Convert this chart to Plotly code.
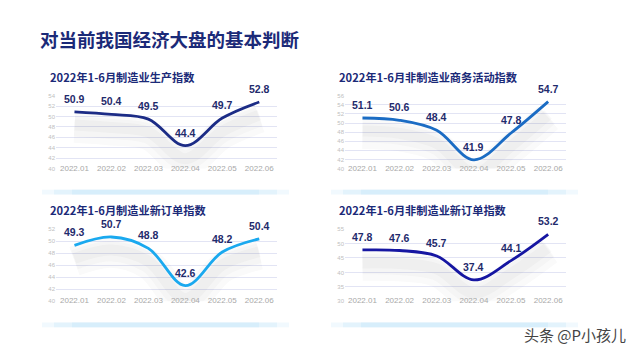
import plotly.graph_objects as go

months = ["2022.01", "2022.02", "2022.03", "2022.04", "2022.05", "2022.06"]
mfg_production = [50.9, 50.4, 49.5, 44.4, 49.7, 52.8]
nonmfg_business = [51.1, 50.6, 48.4, 41.9, 47.8, 54.7]
mfg_new_orders = [49.3, 50.7, 48.8, 42.6, 48.2, 50.4]
nonmfg_new_orders = [47.8, 47.6, 45.7, 37.4, 44.1, 53.2]

main_title = "对当前我国经济大盘的基本判断"
titles = ["2022年1-6月制造业生产指数", "2022年1-6月非制造业商务活动指数",
          "2022年1-6月制造业新订单指数", "2022年1-6月非制造业新订单指数"]
series = [mfg_production, nonmfg_business, mfg_new_orders, nonmfg_new_orders]
colors = ["#1c2c86", "#1b6cc4", "#1aa9ef", "#1616a2"]
yranges = [(40, 54), (40, 56), (40, 52), (30, 55)]
ydticks = [2, 2, 2, 5]

W, H = 640, 360
boxes = [(56, 277, 94.3, 168.3), (345, 566, 94.3, 168.3),
         (56, 277, 230, 303.3), (345, 566, 230, 303.3)]
xranges = [(-0.5, 5.48), (-0.47, 5.48), (-0.5, 5.48), (-0.47, 5.48)]
title_pos = [(48, 75), (337, 75), (48, 210), (337, 210)]

FONT = "Noto Sans CJK SC"
fig = go.Figure()
layout = dict(width=W, height=H, margin=dict(l=0, r=0, t=0, b=0),
              paper_bgcolor="white", plot_bgcolor="rgba(0,0,0,0)",
              showlegend=False, font=dict(family=FONT))
annotations = []
shapes = []

for i in range(4):
    x0, x1, yt, yb = boxes[i]
    xa = "xaxis" if i == 0 else f"xaxis{i+1}"
    ya = "yaxis" if i == 0 else f"yaxis{i+1}"
    xr = "x" if i == 0 else f"x{i+1}"
    yr = "y" if i == 0 else f"y{i+1}"
    lo, hi = yranges[i]
    span = hi - lo
    xs = list(range(len(months)))
    for w, a, off in [(30, 0.022, 0.22), (20, 0.028, 0.2), (11, 0.032, 0.18)]:
        fig.add_trace(go.Scatter(x=xs, y=[v - off * span for v in series[i]],
                                 mode="lines", line=dict(color=f"rgba(60,60,60,{a})", width=w,
                                                         shape="spline", smoothing=1.0),
                                 hoverinfo="skip", xaxis=xr, yaxis=yr))
    fig.add_trace(go.Scatter(x=xs, y=series[i], mode="lines",
                             line=dict(color=colors[i], width=2.8, shape="spline", smoothing=1.0),
                             xaxis=xr, yaxis=yr))
    for xv, v in zip(xs, series[i]):
        annotations.append(dict(x=xv, y=v, xref=xr, yref=yr, text=f"<b>{v:.1f}</b>",
                                showarrow=False, yshift=13, yanchor="middle",
                                font=dict(size=10.5, color="#1f2b6c", family="Liberation Sans")))
    layout[xa] = dict(domain=[x0 / W, x1 / W], range=list(xranges[i]), anchor="free",
                      position=1 - (yb - 7) / H,
                      tickvals=xs, ticktext=months, showgrid=False, zeroline=False,
                      showline=False, ticks="",
                      tickfont=dict(size=8, color="#a8a8a8", family="Liberation Sans"))
    layout[ya] = dict(domain=[1 - yb / H, 1 - yt / H], range=[lo, hi], anchor=xr,
                      dtick=ydticks[i], tick0=lo, showgrid=True, gridcolor="#e2e4f4",
                      gridwidth=1, zeroline=False, showline=False, ticks="",
                      tickfont=dict(size=6, color="#c0c0c0", family="Liberation Sans"))
    tx, ty = title_pos[i]
    annotations.append(dict(text=f"<b>{titles[i]}</b>", x=tx / W, y=1 - ty / H,
                            xref="paper", yref="paper", xanchor="left", yanchor="middle",
                            showarrow=False, font=dict(size=11.2, color="#1b2a78", family=FONT)))
    gy = yb + 24
    for k, (pad, a) in enumerate([(0, 0.25), (12, 0.35), (30, 0.45)]):
        shapes.append(dict(type="rect", xref="paper", yref="paper",
                           x0=(x0 - 14 + pad) / W, x1=(x1 + 12 - pad) / W,
                           y0=1 - (gy + 2.5) / H, y1=1 - (gy - 2.5) / H,
                           fillcolor=f"rgba(200,232,250,{a})", line=dict(width=0), layer="below"))

annotations.append(dict(text=f"<b>{main_title}</b>", x=38 / W, y=1 - 37 / H,
                        xref="paper", yref="paper", xanchor="left", yanchor="middle",
                        showarrow=False, font=dict(size=18.5, color="#1b2a78", family=FONT)))
annotations.append(dict(text="头条 @P小孩儿", x=628 / W, y=1 - 337 / H,
                        xref="paper", yref="paper", xanchor="right", yanchor="middle",
                        showarrow=False, font=dict(size=15, color="#444444", family=FONT)))
layout["annotations"] = annotations
layout["shapes"] = shapes
fig.update_layout(**layout)
fig.write_html("out.html", config={"displayModeBar": False},
               post_script="document.body.style.margin='0';")
